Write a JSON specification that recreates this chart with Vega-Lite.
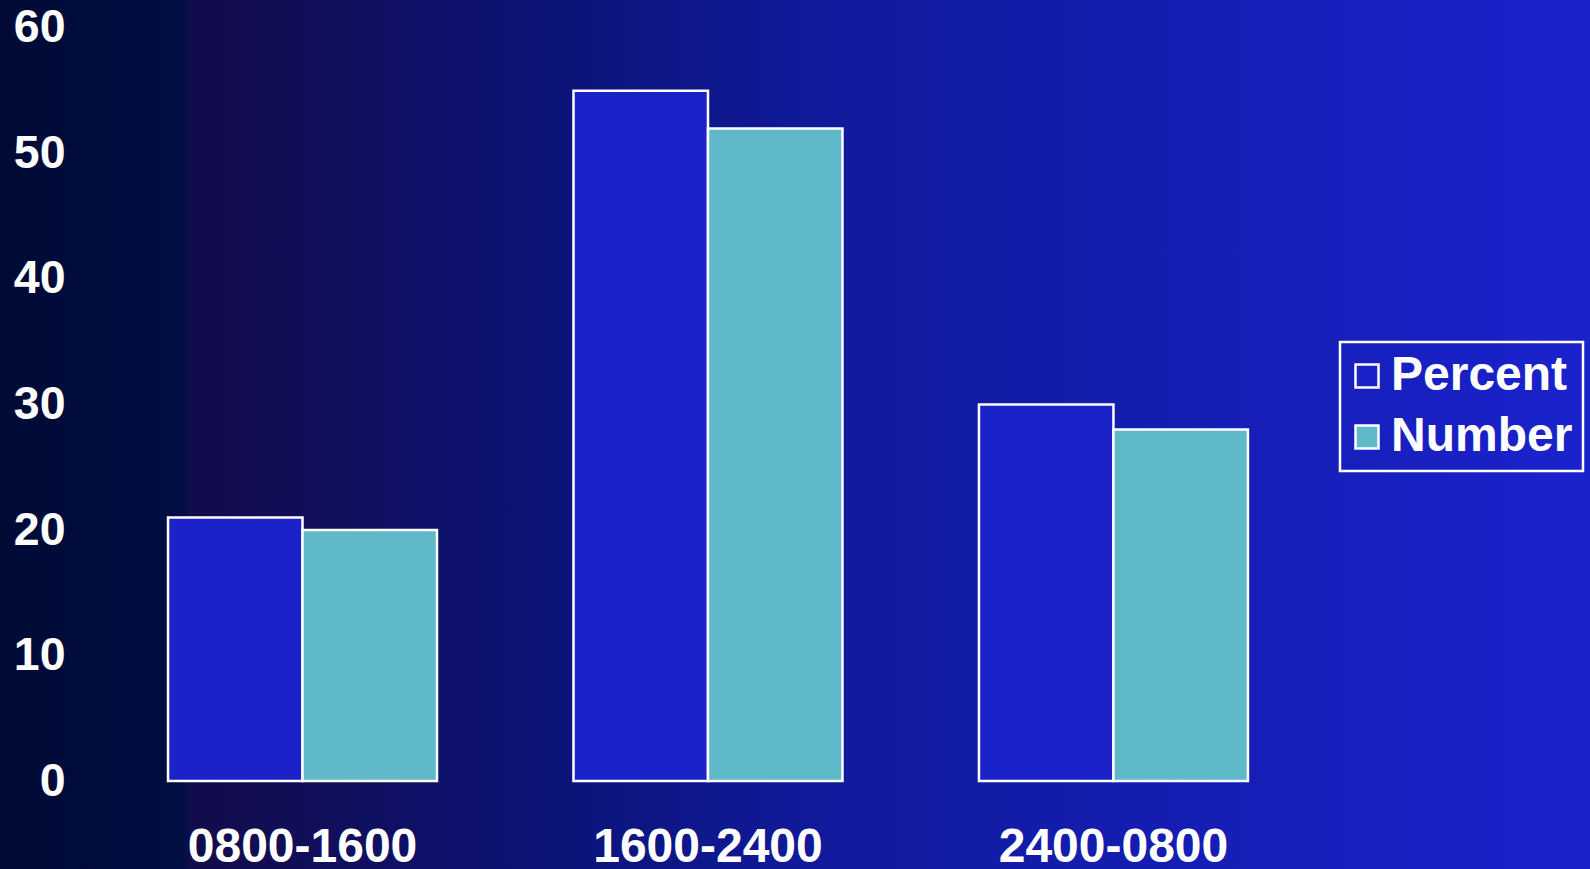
{
  "$schema": "https://vega.github.io/schema/vega-lite/v6.json",
  "width": 1590,
  "height": 869,
  "padding": 0,
  "autosize": {"type": "none"},
  "background": "#000a35",
  "config": {
    "view": {
      "stroke": null,
      "fill": {
        "gradient": "linear",
        "x1": 0, "y1": 0, "x2": 1, "y2": 0,
        "stops": [
          {"offset": 0, "color": "#000a35"},
          {"offset": 0.115, "color": "#000e42"},
          {"offset": 0.12, "color": "#130c4b"},
          {"offset": 0.355, "color": "#0c1479"},
          {"offset": 0.52, "color": "#111a9c"},
          {"offset": 1, "color": "#1a22cc"}
        ]
      }
    },
    "font": "Liberation Sans"
  },
  "data": {
    "values": [
      {"period": "0800-1600", "series": "Percent", "value": 21},
      {"period": "0800-1600", "series": "Number", "value": 20},
      {"period": "1600-2400", "series": "Percent", "value": 55},
      {"period": "1600-2400", "series": "Number", "value": 52},
      {"period": "2400-0800", "series": "Percent", "value": 30},
      {"period": "2400-0800", "series": "Number", "value": 28}
    ]
  },
  "mark": {"type": "bar", "stroke": "white", "strokeWidth": 2.5},
  "encoding": {
    "x": {
      "field": "period",
      "type": "nominal",
      "sort": ["0800-1600", "1600-2400", "2400-0800"],
      "scale": {"paddingInner": 0.3366, "paddingOuter": 0.629, "align": 0.3294},
      "axis": {
        "title": null,
        "labelAngle": 0,
        "labelFontSize": 48,
        "labelFont": "Liberation Sans",
        "labelFontWeight": "bold",
        "labelColor": "white",
        "labelLimit": 0,
        "domain": false,
        "ticks": false,
        "tickSize": 0,
        "labelPadding": 0,
        "offset": -8,
        "labelBaseline": "alphabetic"
      }
    },
    "xOffset": {
      "field": "series",
      "type": "nominal",
      "sort": ["Percent", "Number"],
      "scale": {"paddingInner": 0, "paddingOuter": 0}
    },
    "y": {
      "field": "value",
      "type": "quantitative",
      "scale": {"domain": [-7.01, 62.23], "nice": false, "zero": false},
      "axis": {
        "title": null,
        "values": [0, 10, 20, 30, 40, 50, 60],
        "labelFontSize": 46.5,
        "labelFont": "Liberation Sans",
        "labelFontWeight": "bold",
        "labelColor": "white",
        "labelLimit": 0,
        "domain": false,
        "ticks": false,
        "tickSize": 0,
        "grid": false,
        "labelPadding": 0,
        "offset": -65
      }
    },
    "y2": {"datum": 0},
    "color": {
      "field": "series",
      "type": "nominal",
      "sort": ["Percent", "Number"],
      "scale": {"domain": ["Percent", "Number"], "range": ["#1a22c8", "#5fb9c9"]},
      "legend": {
        "title": null,
        "orient": "none",
        "legendX": 1340,
        "legendY": 342,
        "padding": 10,
        "strokeColor": "white",
        "symbolType": "square",
        "symbolSize": 530,
        "symbolStrokeColor": "white",
        "symbolStrokeWidth": 2.5,
        "symbolOffset": -7,
        "labelFontSize": 48,
        "labelFont": "Liberation Sans",
        "labelFontWeight": "bold",
        "labelColor": "white",
        "labelLimit": 0,
        "labelOffset": 0,
        "rowPadding": 13,
        "encode": {"legend": {"update": {"strokeWidth": {"value": 2.5}}}}
      }
    }
  }
}
